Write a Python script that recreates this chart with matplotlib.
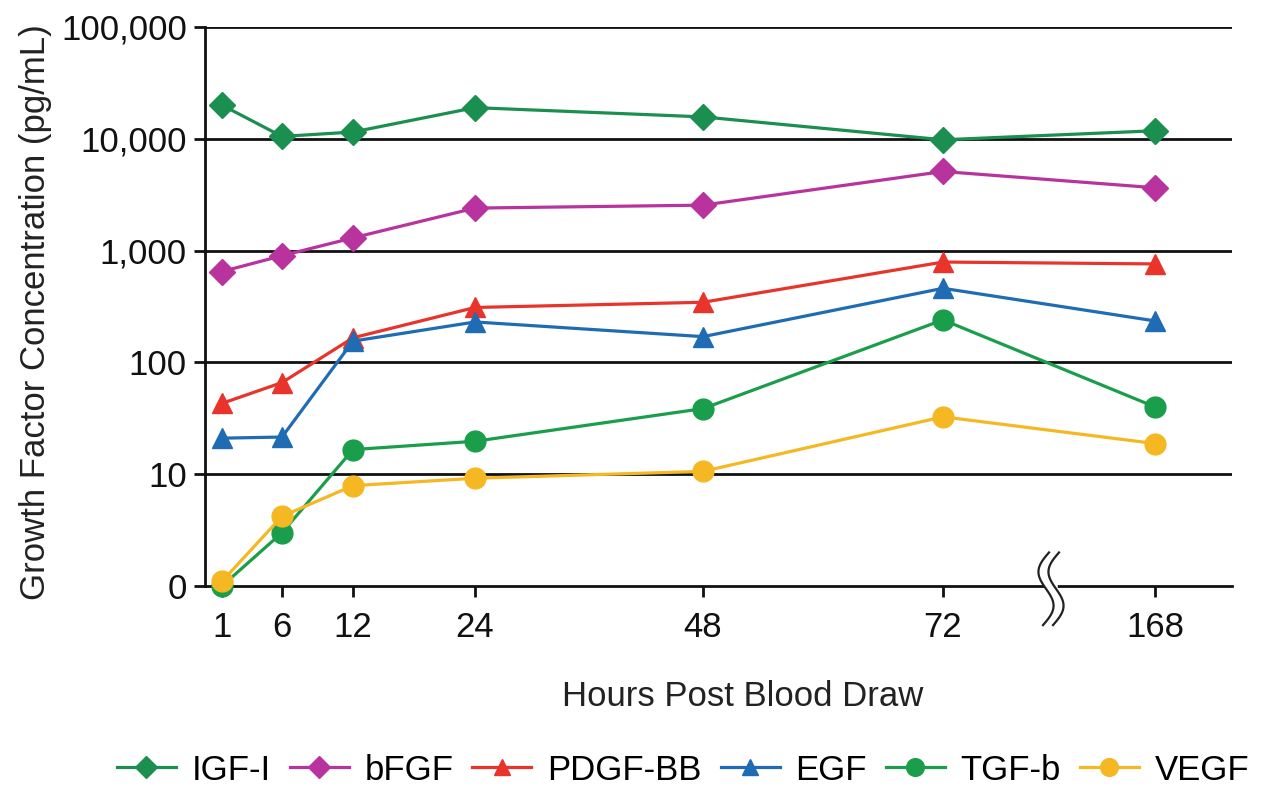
import matplotlib
matplotlib.use("Agg")
import matplotlib.pyplot as plt
import numpy as np

plt.rcParams['font.family'] = ['Liberation Sans', 'DejaVu Sans']

# hours and where each sits along the (non-uniform) x axis
hours = ['1', '6', '12', '24', '48', '72', '168']
x_pos = [22.2, 28.2, 35.3, 47.5, 70.3, 94.3, 115.5]

igf1 = [20000, 10500, 11500, 19000, 15700, 9800, 11800]
bfgf = [650, 900, 1300, 2400, 2550, 5100, 3650]
pdgf = [43, 66, 166, 310, 345, 790, 760]
egf = [21, 21.5, 155, 230, 170, 460, 235]
tgfb = [1.0, 3.0, 16.6, 19.7, 38.6, 240, 40]
vegf = [1.1, 4.2, 7.9, 9.2, 10.6, 32.6, 18.8]

series = [
    ('IGF-I', igf1, '#1b8f4f', 'D', 13),
    ('bFGF', bfgf, '#b8339d', 'D', 13),
    ('PDGF-BB', pdgf, '#e8342a', '^', 14),
    ('EGF', egf, '#1f6cb5', '^', 14),
    ('TGF-b', tgfb, '#1a9e4b', 'o', 15),
    ('VEGF', vegf, '#f5b823', 'o', 15),
]

fig = plt.figure(figsize=(12.65, 7.89), dpi=100)
ax = fig.add_axes([205/1265, 1-586/789, (1232-205)/1265, (586-27)/789])

for name, vals, col, mk, ms in series:
    ax.plot(x_pos, vals, color=col, marker=mk, markersize=ms, lw=2.3,
            label=name, clip_on=False, zorder=3)

ax.set_yscale('log')
ax.set_ylim(1, 100000)
yt = [1, 10, 100, 1000, 10000, 100000]
ax.set_yticks(yt)
ax.set_yticklabels(['0', '10', '100', '1,000', '10,000', '100,000'])
ax.yaxis.set_minor_locator(matplotlib.ticker.NullLocator())
ax.set_xlim(20.5, 123.2)
ax.set_xticks(x_pos)
ax.set_xticklabels(hours)

for y in yt[1:]:
    ax.axhline(y, color='#111111', lw=2, zorder=1)

for s in ['top', 'right']:
    ax.spines[s].set_visible(False)
for s in ['left', 'bottom']:
    ax.spines[s].set_linewidth(2)
    ax.spines[s].set_color('#111111')

ax.tick_params(axis='both', direction='out', length=8, width=2,
               labelsize=25, colors='#111111', pad=5)
ax.tick_params(axis='x', pad=10)
ax.set_ylabel('Growth Factor Concentration (pg/mL)', fontsize=25,
              color='#222222')
ax.yaxis.set_label_coords(-0.149, 0.49)
ax.set_xlabel('Hours Post Blood Draw', fontsize=25, color='#222222')
ax.xaxis.set_label_coords(0.524, -0.168)

# axis break mark
s = np.linspace(0, 1, 60)
for xc in [104.6, 105.6]:
    xs = xc - 0.9*np.sin(2*np.pi*s) + 0.6*(0.5 - s)
    ys = 0.06 - 0.13*s
    ax.plot(xs, ys, color='#222222', lw=1.6,
            transform=ax.get_xaxis_transform(), clip_on=False, zorder=5)
ax.plot([104.7, 105.5], [0, 0], color='white', lw=4,
        transform=ax.get_xaxis_transform(), clip_on=False, zorder=4)

fig.legend(loc='center', bbox_to_anchor=(683/1265, 1-770/789), ncol=6,
           frameon=False, fontsize=25, handlelength=1.7, columnspacing=0.55,
           handletextpad=0.45, markerscale=0.85)

fig.savefig('out.png', dpi=100)
